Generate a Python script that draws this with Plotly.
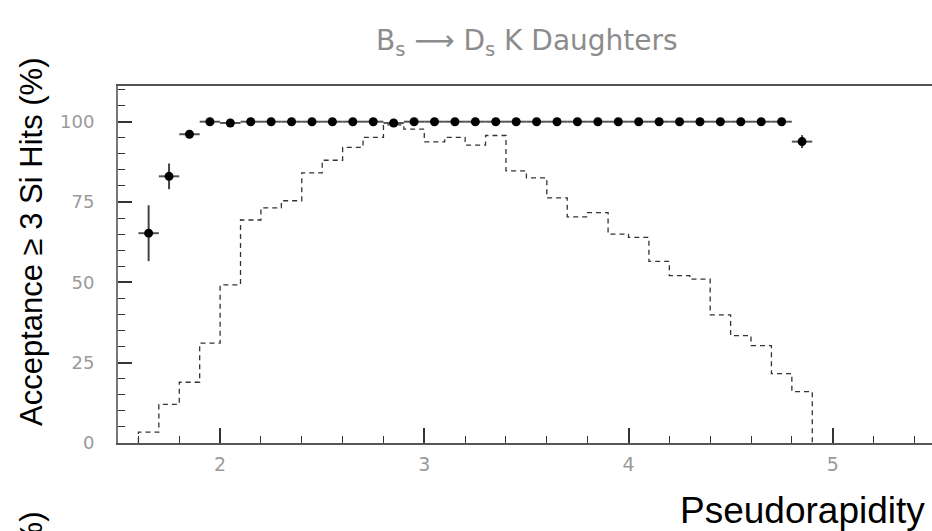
import plotly.graph_objects as go

# ---------------- data ----------------
# acceptance points (bin centres, %)
acc_eta = [1.65, 1.75, 1.85, 1.95, 2.05, 2.15, 2.25, 2.35, 2.45, 2.55, 2.65, 2.75,
           2.85, 2.95, 3.05, 3.15, 3.25, 3.35, 3.45, 3.55, 3.65, 3.75, 3.85, 3.95,
           4.05, 4.15, 4.25, 4.35, 4.45, 4.55, 4.65, 4.75, 4.85]
acc_val = [65.3, 83.0, 96.1, 100.0, 99.6, 100.0, 100.0, 100.0, 100.0, 100.0, 100.0, 100.0,
           99.6, 100.0, 100.0, 100.0, 100.0, 100.0, 100.0, 100.0, 100.0, 100.0, 100.0, 100.0,
           100.0, 100.0, 100.0, 100.0, 100.0, 100.0, 100.0, 100.0, 93.8]
acc_err = [8.7, 4.0, 1.0, 0.2, 0.4, 0.2, 0.2, 0.2, 0.2, 0.2, 0.2, 0.2,
           0.4, 0.2, 0.2, 0.2, 0.2, 0.2, 0.2, 0.2, 0.2, 0.2, 0.2, 0.2,
           0.2, 0.2, 0.2, 0.2, 0.2, 0.2, 0.2, 0.2, 2.0]
acc_half_width = 0.05

# dashed distribution (bin left edges, arbitrary units)
dist_left = [1.6, 1.7, 1.8, 1.9, 2.0, 2.1, 2.2, 2.3, 2.4, 2.5, 2.6, 2.7,
             2.8, 2.9, 3.0, 3.1, 3.2, 3.3, 3.4, 3.5, 3.6, 3.7, 3.8, 3.9,
             4.0, 4.1, 4.2, 4.3, 4.4, 4.5, 4.6, 4.7, 4.8]
dist_val = [3.4, 12.0, 18.9, 31.1, 49.2, 69.4, 73.2, 75.4, 84.1, 88.0, 92.0, 95.1,
            99.0, 97.7, 93.7, 95.1, 92.7, 95.7, 84.7, 82.5, 76.3, 70.4, 71.7, 65.0,
            64.0, 56.5, 52.1, 51.0, 39.9, 33.4, 30.3, 21.6, 16.0]
dist_bin_width = 0.1

x_tickvals = [2, 3, 4, 5]
y_tickvals = [0, 25, 50, 75, 100]

title_text = "B<sub>s</sub> \u27f6 D<sub>s</sub> K Daughters"
ytitle_text = "Acceptance \u2265 3 Si Hits (%)"
xtitle_text = "Pseudorapidity"

# ---------------- layout geometry ----------------
W, H = 932, 531
L, R, T, B = 118, 0, 86, 88
PW, PH = W - L - R, H - T - B


def px_x(px):
    return (px - L) / PW


def px_y(py):
    return (H - B - py) / PH


# step-line arrays built from the histogram
step_x = [dist_left[0]] + dist_left + [dist_left[-1] + dist_bin_width]
step_y = [0] + dist_val + [0]

fig = go.Figure()

fig.add_trace(go.Scatter(
    x=step_x, y=step_y, mode="lines",
    line=dict(shape="hv", color="#333333", width=1.3, dash="5px,4px"),
    showlegend=False, hoverinfo="skip",
))

fig.add_trace(go.Scatter(
    x=acc_eta, y=acc_val, mode="markers",
    marker=dict(color="black", size=9, symbol="circle"),
    error_y=dict(type="data", array=acc_err, visible=True, color="#444444",
                 thickness=2, width=0),
    error_x=dict(type="constant", value=acc_half_width, visible=True,
                 color="#555555", thickness=2, width=0),
    showlegend=False,
))

tick_font_x = dict(family="DejaVu Sans", size=19, color="#9a9a9a")
tick_font_y = dict(family="DejaVu Sans", size=18, color="#9a9a9a")

fig.update_xaxes(
    range=[1.5, 1.5 + PW / 204.2],
    tickmode="array", tickvals=x_tickvals, ticktext=[str(v) for v in x_tickvals],
    ticks="inside", ticklen=15, tickwidth=1.5, tickcolor="#333333",
    minor=dict(dtick=0.2, tick0=0, ticks="inside", ticklen=7, tickwidth=1.2,
               tickcolor="#333333", showgrid=False),
    showline=True, linecolor="#555555", linewidth=2, mirror=True,
    showgrid=False, zeroline=False, tickfont=tick_font_x,
    ticklabelstandoff=3,
)
fig.update_yaxes(
    range=[0, PH / 3.213],
    tickmode="array", tickvals=y_tickvals, ticktext=[str(v) for v in y_tickvals],
    ticks="inside", ticklen=14, tickwidth=1.5, tickcolor="#333333",
    minor=dict(dtick=5, tick0=0, ticks="inside", ticklen=7, tickwidth=1.2,
               tickcolor="#333333", showgrid=False),
    showline=True, linecolor="#777777", linewidth=2, mirror=False,
    showgrid=False, zeroline=False, tickfont=tick_font_y,
    ticklabelstandoff=18,
)

annotations = [
    dict(text=title_text, x=px_x(527), y=px_y(42), xref="paper", yref="paper",
         xanchor="center", yanchor="middle", showarrow=False,
         font=dict(family="DejaVu Sans ExtraLight, DejaVu Sans", size=28, color="#8c8c8c")),
    dict(text=ytitle_text, x=px_x(31), y=px_y(242), xref="paper", yref="paper",
         xanchor="center", yanchor="middle", textangle=-90, showarrow=False,
         font=dict(family="Liberation Sans, Arial", size=31, color="black")),
    dict(text=ytitle_text, x=px_x(31), y=px_y(510), xref="paper", yref="paper",
         xanchor="center", yanchor="top", textangle=-90, showarrow=False,
         font=dict(family="Liberation Sans, Arial", size=31, color="black")),
    dict(text=xtitle_text, x=px_x(802), y=px_y(510), xref="paper", yref="paper",
         xanchor="center", yanchor="middle", showarrow=False,
         font=dict(family="Liberation Sans, Arial", size=37, color="black")),
]

fig.update_layout(
    width=W, height=H,
    margin=dict(l=L, r=R, t=T, b=B, pad=0),
    paper_bgcolor="white", plot_bgcolor="white",
    annotations=annotations,
    showlegend=False,
)

fig.write_html("out.html", config={"displayModeBar": False})
